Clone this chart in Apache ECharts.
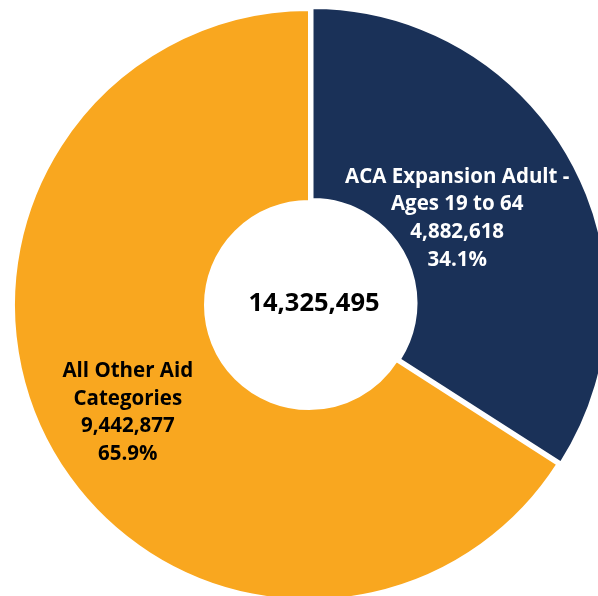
<!DOCTYPE html>
<html>
<head>
<meta charset="utf-8">
<script src="https://cdn.jsdelivr.net/npm/echarts@6/dist/echarts.min.js"></script>
<style>html,body{margin:0;padding:0;background:#fff}#c{width:598px;height:596px}</style>
</head>
<body>
<div id="c"></div>
<script>
const categories = ['ACA Expansion Adult -\nAges 19 to 64', 'All Other Aid\nCategories'];
const values = [4882618, 9442877];
const totalLabel = '14,325,495';
const colors = ['#1A3158', '#F9A71F'];
const labelColors = ['#FFFFFF', '#000000'];

const total = values.reduce((a, b) => a + b, 0);
const fmt = n => n.toLocaleString('en-US');
const chart = echarts.init(document.getElementById('c'), null, {renderer: 'canvas'});
chart.setOption({
  animation: false,
  title: {
    text: totalLabel,
    left: 309, top: 299,
    textAlign: 'center', textVerticalAlign: 'middle',
    textStyle: {fontFamily: 'Open Sans', fontWeight: 'bold', fontSize: 25.5, color: '#000'}
  },
  series: [{
    type: 'pie',
    center: [309, 305],
    radius: [104, 295],
    startAngle: 90,
    clockwise: true,
    selectedMode: 'single',
    selectedOffset: 4,
    emphasis: {disabled: true},
    itemStyle: {borderColor: '#fff', borderWidth: 2},
    labelLine: {show: false},
    label: {
      position: 'inside',
      fontFamily: 'Open Sans', fontWeight: 'bold', fontSize: 20.5, lineHeight: 27.7,
      formatter: p => p.name + '\n' + fmt(p.value) + '\n' + (p.value / total * 100).toFixed(1) + '%'
    },
    labelLayout: p => (p.dataIndex === 0 ? {dx: -33, dy: 12.5} : {dx: -3.5, dy: 10.5}),
    data: categories.map((name, i) => ({
      name, value: values[i], selected: i === 0,
      itemStyle: {color: colors[i]},
      label: {color: labelColors[i]}
    }))
  }]
});
</script>
</body>
</html>
